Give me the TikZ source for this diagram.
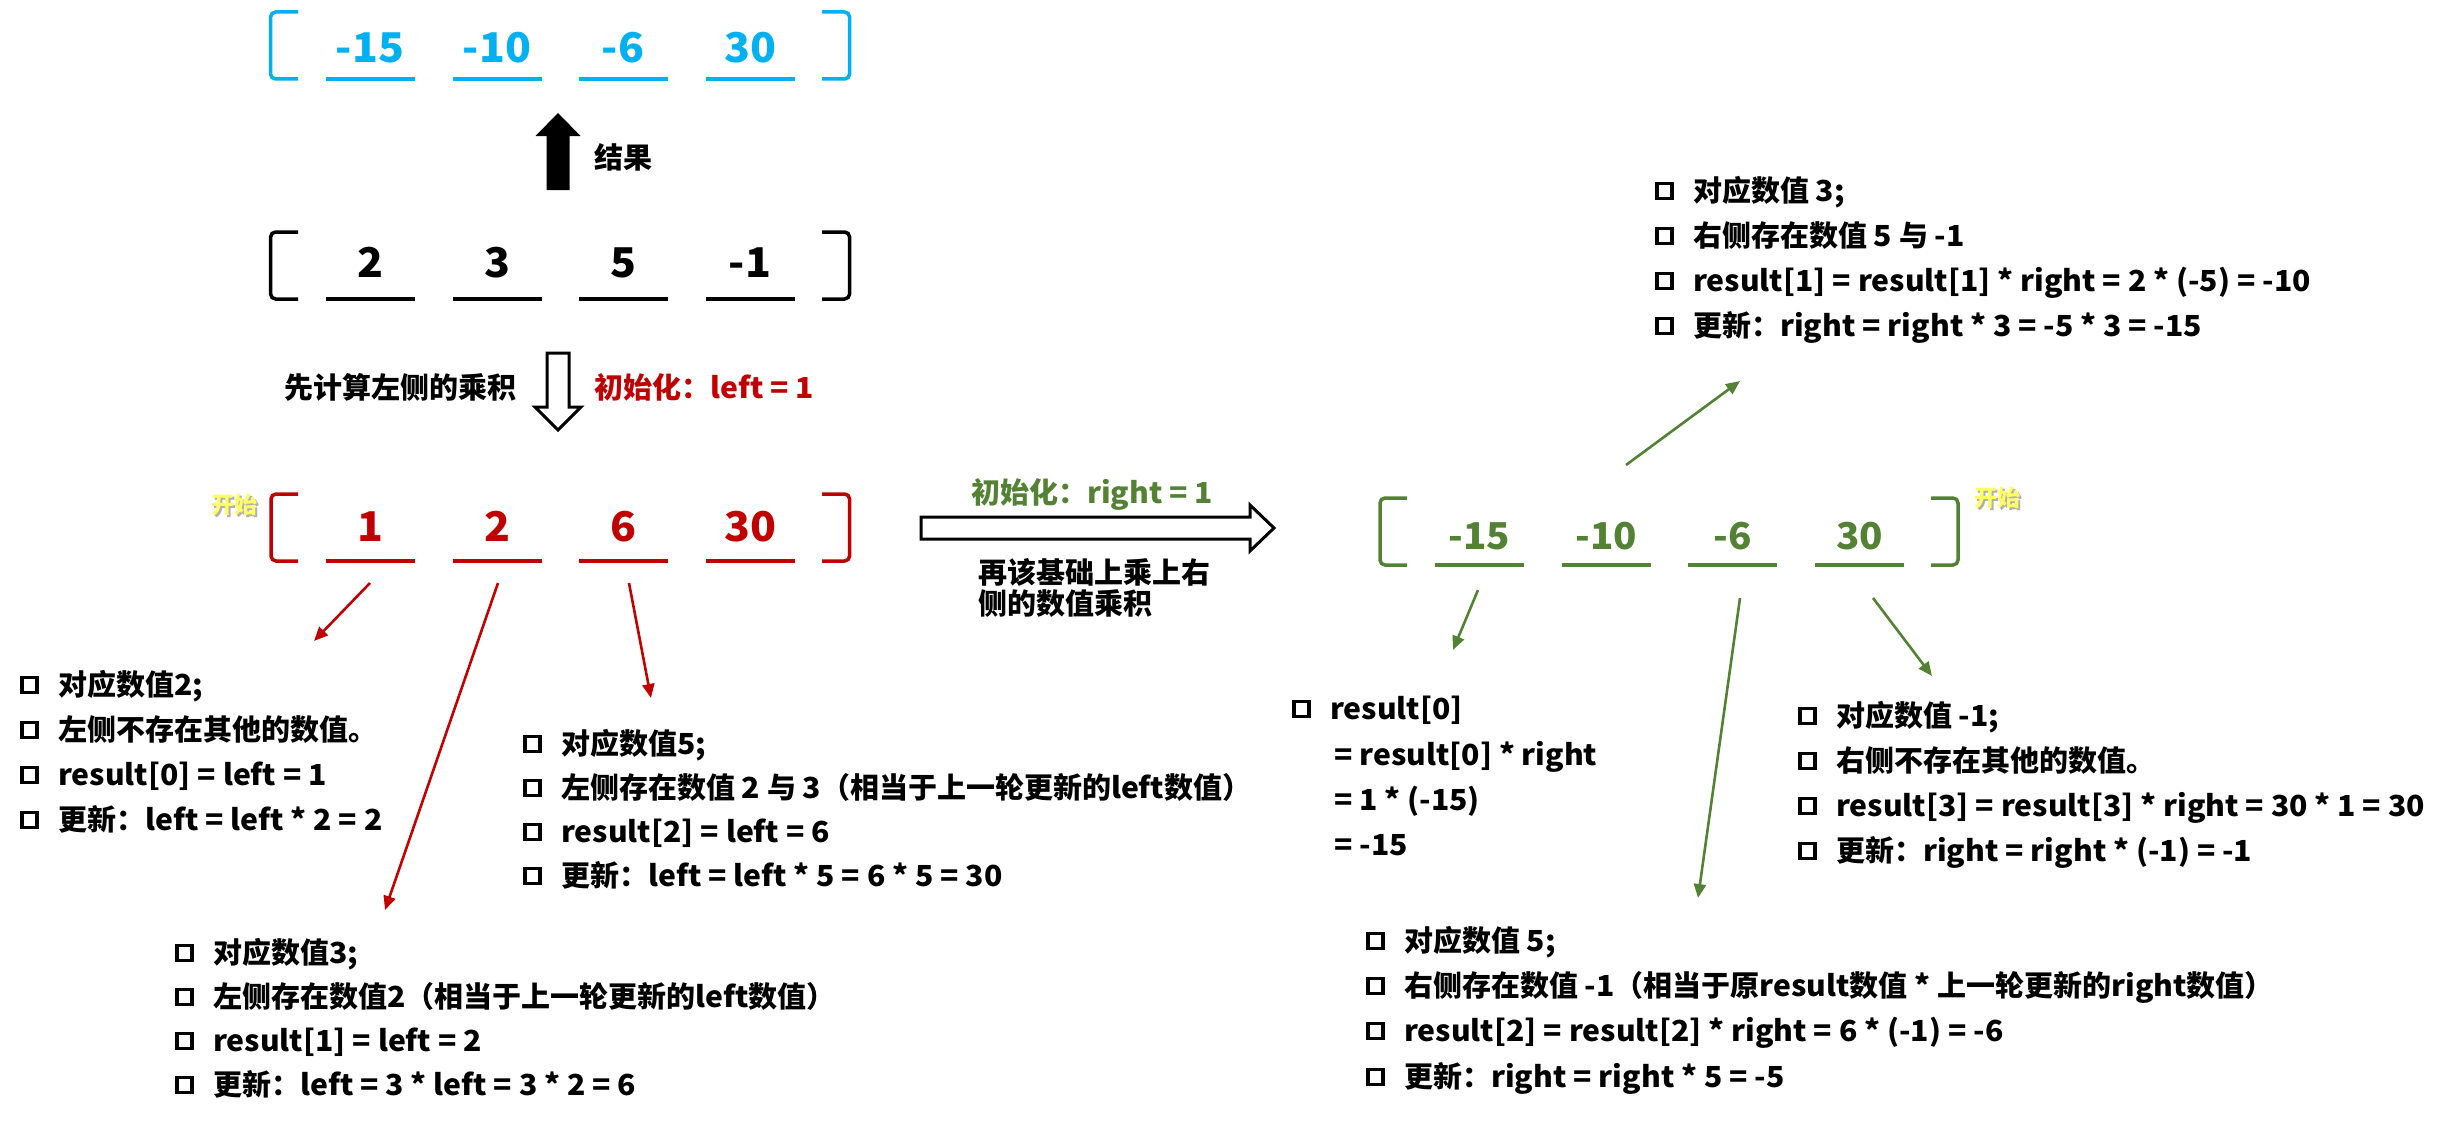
\documentclass[tikz,border=0pt]{standalone}
\usepackage{fontspec}
\setmainfont{Noto Sans CJK SC}[FakeStretch=1.04]
\newfontfamily\cjkfont{Noto Sans CJK SC}
\newfontfamily\latfont{Noto Sans CJK SC}[FakeStretch=1.04]
% automatic switch between CJK and Latin fonts
\XeTeXinterchartokenstate=1
\newXeTeXintercharclass\CJKcls
\newcount\cjkc
\cjkc="3000 \loop\ifnum\cjkc<"3040 \XeTeXcharclass\cjkc=\CJKcls \advance\cjkc 1 \repeat
\cjkc="4E00 \loop\ifnum\cjkc<"A000 \XeTeXcharclass\cjkc=\CJKcls \advance\cjkc 1 \repeat
\cjkc="FF00 \loop\ifnum\cjkc<"FF60 \XeTeXcharclass\cjkc=\CJKcls \advance\cjkc 1 \repeat
\XeTeXinterchartoks 0 \CJKcls = {\cjkfont}
\XeTeXinterchartoks 4095 \CJKcls = {\cjkfont}
\XeTeXinterchartoks \CJKcls 0 = {\latfont}
\XeTeXinterchartoks 4095 0 = {\latfont}
\usetikzlibrary{arrows.meta}
\definecolor{cblue}{HTML}{00B0F0}
\definecolor{cred}{HTML}{C00000}
\definecolor{cgreen}{HTML}{548235}
\definecolor{cyel}{HTML}{FFFF66}
\definecolor{cshadow}{HTML}{B0B0B0}
\tikzset{
  txt/.style={anchor=base west, inner sep=0pt, font=\fontsize{29}{35}\selectfont\bfseries},
  bsq/.style={draw=black, line width=3.8pt, minimum size=15pt, inner sep=0pt},
  num/.style={anchor=base, inner sep=0pt, font=\fontsize{41}{41}\selectfont\bfseries},
  gnum/.style={anchor=base, inner sep=0pt, font=\fontsize{37}{37}\selectfont\bfseries},
  brk/.style={line width=3.5pt, rounded corners=5pt},
  ul/.style={line width=3.8pt},
  conn/.style={line width=2.6pt, -{Triangle[length=14pt,width=12pt]}},
  hollow/.style={draw=black, line width=3pt, fill=white, line join=miter},
  kaishi/.style={anchor=base west, inner sep=0pt, font=\fontsize{23}{23}\selectfont\bfseries},
}
\newcommand\bline[4]{%
  \node[bsq] (#3s) at (#1+9.5,#2) {};
  \node[txt] (#3) at (#1+38,#2+10) {#4};}
\begin{document}
\begin{tikzpicture}[x=1pt,y=-1pt]
\useasboundingbox (0,0) rectangle (2447,1124);

% ---------- blue result array ----------
\draw[brk,cblue] (298,12) -- (270.6,12) -- (270.6,79) -- (298,79);
\draw[brk,cblue] (822,12) -- (849.6,12) -- (849.6,79) -- (822,79);
\foreach \v/\xx [count=\i] in {-15/370,-10/497,-6/623,30/750}{
  \node[num,text=cblue] (blue\i) at (\xx,63) {\v};
  \draw[ul,cblue] (\xx-44.5,79) -- (\xx+44.5,79);
}

% ---------- black input array ----------
\draw[brk,black] (298,232) -- (270.6,232) -- (270.6,299) -- (298,299);
\draw[brk,black] (822,232) -- (849.6,232) -- (849.6,299) -- (822,299);
\foreach \v/\xx [count=\i] in {2/370,3/497,5/623,-1/750}{
  \node[num,text=black] (blk\i) at (\xx,277) {\v};
  \draw[ul,black] (\xx-44.5,299) -- (\xx+44.5,299);
}

% up arrow + label
\fill[black] (546.5,190) -- (546.5,136) -- (535.5,136) -- (558,113) -- (580.5,136) -- (569.5,136) -- (569.5,190) -- cycle;
\node[txt] (jieguo) at (594,168) {结果};

% down hollow arrow + labels
\draw[hollow] (547,353) -- (569,353) -- (569,407) -- (581,407) -- (558,430) -- (535,407) -- (547,407) -- cycle;
\node[txt] (leftcalc) at (284,398) {先计算左侧的乘积};
\node[txt,text=cred] (leftinit) at (594,398) {初始化：left = 1};

% ---------- red left-product array ----------
\node[kaishi,text=cshadow] (ks1s) at (213,515) {开始};
\node[kaishi,text=cyel] (ks1) at (211,513) {开始};
\draw[brk,cred] (298,494) -- (271,494) -- (271,561) -- (298,561);
\draw[brk,cred] (822,494) -- (849.6,494) -- (849.6,561) -- (822,561);
\foreach \v/\xx [count=\i] in {1/370,2/497,6/623,30/750}{
  \node[num,text=cred] (red\i) at (\xx,541) {\v};
  \draw[ul,cred] (\xx-44.5,561) -- (\xx+44.5,561);
}

% red connectors
\coordinate (ra1) at (370,583); \coordinate (re1) at (314,641);
\coordinate (ra2) at (498,583); \coordinate (re2) at (385,910);
\coordinate (ra3) at (629,583); \coordinate (re3) at (651,698);
\draw[conn,cred] (ra1) -- (re1);
\draw[conn,cred] (ra2) -- (re2);
\draw[conn,cred] (ra3) -- (re3);

% box 1
\bline{20}{685}{bA}{对应数值2;}
\bline{20}{730}{bB}{左侧不存在其他的数值。}
\bline{20}{775}{bC}{result[0] = left = 1}
\bline{20}{820}{bD}{更新：left = left * 2 = 2}

% box 2
\bline{175}{953}{cA}{对应数值3;}
\bline{175}{997}{cB}{左侧存在数值2（相当于上一轮更新的left数值）}
\bline{175}{1041}{cC}{result[1] = left = 2}
\bline{175}{1085}{cD}{更新：left = 3 * left = 3 * 2 = 6}

% box 3
\bline{523}{744}{dA}{对应数值5;}
\bline{523}{788}{dB}{左侧存在数值 2 与 3（相当于上一轮更新的left数值）}
\bline{523}{832}{dC}{result[2] = left = 6}
\bline{523}{876}{dD}{更新：left = left * 5 = 6 * 5 = 30}

% ---------- middle right hollow arrow ----------
\draw[hollow] (921,517) -- (1250,517) -- (1250,505) -- (1274,528) -- (1250,551) -- (1250,539) -- (921,539) -- cycle;
\node[txt,text=cgreen] (rightinit) at (971,503) {初始化：right = 1};
\node[txt] (rightcalc1) at (978,583) {再该基础上乘上右};
\node[txt] (rightcalc2) at (978,614) {侧的数值乘积};

% ---------- green final array ----------
\draw[brk,cgreen] (1407,498) -- (1380,498) -- (1380,565) -- (1407,565);
\draw[brk,cgreen] (1931,498) -- (1958,498) -- (1958,565) -- (1931,565);
\foreach \v/\xx [count=\i] in {-15/1479.5,-10/1606.5,-6/1732.5,30/1859.5}{
  \node[gnum,text=cgreen] (grn\i) at (\xx,549) {\v};
  \draw[ul,cgreen] (\xx-44.5,565) -- (\xx+44.5,565);
}
\node[kaishi,text=cshadow] (ks2s) at (1976,508) {开始};
\node[kaishi,text=cyel] (ks2) at (1974,506) {开始};

% green connectors
\coordinate (ga0) at (1626,465); \coordinate (ge0) at (1740,381);
\coordinate (ga1) at (1478,590); \coordinate (ge1) at (1453,650);
\coordinate (ga2) at (1740,598); \coordinate (ge2) at (1698,898);
\coordinate (ga3) at (1873,598); \coordinate (ge3) at (1932,676);
\draw[conn,cgreen] (ga0) -- (ge0);
\draw[conn,cgreen] (ga1) -- (ge1);
\draw[conn,cgreen] (ga2) -- (ge2);
\draw[conn,cgreen] (ga3) -- (ge3);

% top right box
\bline{1655}{191}{eA}{对应数值 3;}
\bline{1655}{236}{eB}{右侧存在数值 5 与 -1}
\bline{1655}{281}{eC}{result[1] = result[1] * right = 2 * (-5) = -10}
\bline{1655}{326}{eD}{更新：right = right * 3 = -5 * 3 = -15}

% result[0] box
\bline{1292}{709}{fA}{result[0]}
\node[txt] (fB) at (1334,765) {= result[0] * right};
\node[txt] (fC) at (1334,810) {= 1 * (-15)};
\node[txt] (fD) at (1334,855) {= -15};

% box -1
\bline{1798}{716}{gA}{对应数值 -1;}
\bline{1798}{761}{gB}{右侧不存在其他的数值。}
\bline{1798}{806}{gC}{result[3] = result[3] * right = 30 * 1 = 30}
\bline{1798}{851}{gD}{更新：right = right * (-1) = -1}

% box 5
\bline{1366}{941}{hA}{对应数值 5;}
\bline{1366}{986}{hB}{右侧存在数值 -1（相当于原result数值 * 上一轮更新的right数值）}
\bline{1366}{1031}{hC}{result[2] = result[2] * right = 6 * (-1) = -6}
\bline{1366}{1077}{hD}{更新：right = right * 5 = -5}
\end{tikzpicture}
\end{document}
